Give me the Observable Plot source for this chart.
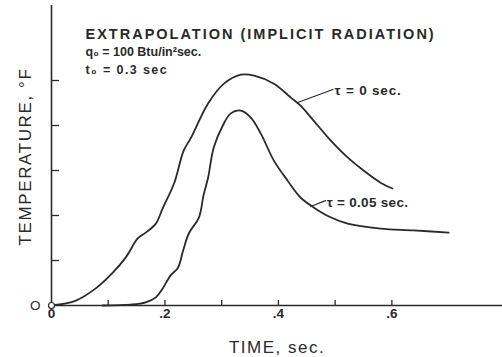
<!DOCTYPE html>
<html>
<head>
<meta charset="utf-8">
<script src="https://cdn.jsdelivr.net/npm/d3@7"></script>
<script src="https://cdn.jsdelivr.net/npm/@observablehq/plot@0.6"></script>
<style>
  html, body { margin: 0; padding: 0; background: #fff; }
  #chart svg { display: block; }
</style>
</head>
<body>
<div id="chart"></div>
<script>
// Curve τ = 0 sec.
const timeTau0 = [0, 0.043, 0.078, 0.108, 0.131, 0.152, 0.166, 0.184, 0.196, 0.216, 0.233, 0.246, 0.276, 0.304, 0.334, 0.357, 0.392, 0.422, 0.439, 0.462, 0.492, 0.522, 0.55, 0.58, 0.601];
const tempTau0 = [0, 0.11, 0.38, 0.73, 1.07, 1.49, 1.62, 1.82, 2.16, 2.71, 3.44, 3.73, 4.49, 4.93, 5.13, 5.11, 4.93, 4.62, 4.44, 4.11, 3.67, 3.29, 3.0, 2.73, 2.6];
// Curve τ = 0.05 sec.
const timeTau005 = [0.09, 0.14, 0.166, 0.184, 0.196, 0.21, 0.223, 0.232, 0.242, 0.26, 0.268, 0.276, 0.286, 0.302, 0.316, 0.334, 0.351, 0.369, 0.392, 0.416, 0.439, 0.462, 0.492, 0.522, 0.58, 0.638, 0.70];
const tempTau005 = [0, 0.02, 0.07, 0.18, 0.38, 0.67, 0.84, 1.22, 1.6, 1.96, 2.45, 2.84, 3.51, 4.0, 4.27, 4.33, 4.18, 3.82, 3.22, 2.78, 2.4, 2.18, 1.96, 1.82, 1.71, 1.67, 1.62];

const xTickValues = [0, 0.2, 0.4, 0.6];
const xTickLabels = ["0", ".2", ".4", ".6"];
const xTickMarks = [0.1, 0.2, 0.3, 0.4, 0.5, 0.6];
const yTickMarks = [1, 2, 3, 4, 5];
const yTickValues = [0];
const yTickLabels = ["O"];

const titleLines = ["EXTRAPOLATION (IMPLICIT RADIATION)", "q₀ = 100 Btu/in²sec.", "t₀ = 0.3 sec"];
const xTitle = "TIME, sec.";
const yTitle = "TEMPERATURE, °F";
const curveNames = ["τ = 0 sec.", "τ = 0.05 sec."];

const curves = [
  ...timeTau0.map((t, i) => ({t, T: tempTau0[i], series: curveNames[0]})),
  ...timeTau005.map((t, i) => ({t, T: tempTau005[i], series: curveNames[1]}))
];

const ink = "#2a2a2a";
const font = "'Liberation Sans', Arial, sans-serif";

const labelAnnotations = [
  {text: curveNames[0], x: 0.499, y: 4.67, fx: 0.434, fy: 4.51, lx: 0.496, ly: 4.8, bend: 40},
  {text: curveNames[1], x: 0.485, y: 2.2, fx: 0.457, fy: 2.2, lx: 0.483, ly: 2.33, bend: 15}
];

const chart = Plot.plot({
  width: 502,
  height: 357,
  marginLeft: 51,
  marginRight: 0,
  marginTop: 5,
  marginBottom: 52,
  x: {domain: [0, 0.795]},
  y: {domain: [0, 6.667]},
  style: {fontFamily: font, color: ink, background: "#fff", overflow: "visible"},
  marks: [
    Plot.ruleX([0], {stroke: ink, strokeWidth: 1.6}),
    Plot.ruleY([0], {stroke: ink, strokeWidth: 1.6}),
    Plot.axisX({ticks: xTickMarks, tickSize: 5, dy: -5, fill: "none", stroke: ink, strokeWidth: 1.3, label: null}),
    Plot.axisX({ticks: xTickValues, tickSize: 0, tickPadding: 3, fontSize: 13.5, fontWeight: "bold", tickFormat: d => xTickLabels[xTickValues.indexOf(d)], label: null}),
    Plot.axisY({ticks: yTickMarks, tickSize: 8, dx: 8, fill: "none", stroke: ink, strokeWidth: 1.3, label: null}),
    Plot.axisY({ticks: yTickValues, tickSize: 0, tickPadding: 11, fontSize: 13.5, tickFormat: d => yTickLabels[yTickValues.indexOf(d)], label: null}),
    Plot.line(curves, {x: "t", y: "T", z: "series", stroke: ink, strokeWidth: 1.8, curve: "catmull-rom"}),
    Plot.dot([{t: 0, T: 0}], {x: "t", y: "T", r: 3, fill: "#fff", stroke: ink, strokeWidth: 1.2}),
    Plot.arrow(labelAnnotations, {x1: "fx", y1: "fy", x2: "lx", y2: "ly", bend: "bend", headLength: 0, stroke: ink, strokeWidth: 1.2}),
    Plot.text(labelAnnotations, {x: "x", y: "y", text: "text", textAnchor: "start", lineAnchor: "bottom", fontSize: 13.5, fontWeight: "bold", fill: ink}),
    Plot.text([titleLines[0]], {frameAnchor: "top-left", dx: 34, dy: 33, textAnchor: "start", lineAnchor: "bottom", fontSize: 14.5, fontWeight: "bold", fill: ink}),
    Plot.text([titleLines[1]], {frameAnchor: "top-left", dx: 34, dy: 50, textAnchor: "start", lineAnchor: "bottom", fontSize: 12.5, fontWeight: "bold", fill: ink}),
    Plot.text([titleLines[2]], {frameAnchor: "top-left", dx: 34, dy: 68, textAnchor: "start", lineAnchor: "bottom", fontSize: 12.5, fontWeight: "bold", fill: ink}),
    Plot.text([xTitle], {frameAnchor: "bottom", dy: 47, textAnchor: "middle", lineAnchor: "bottom", fontSize: 17, fill: ink}),
    Plot.text([yTitle], {frameAnchor: "left", dx: -21, dy: 1, rotate: -90, textAnchor: "middle", lineAnchor: "bottom", fontSize: 17, fill: ink})
  ]
});
document.getElementById("chart").appendChild(chart);

// letter spacing of the hand lettering
const spacing = new Map([
  [titleLines[0], "2px"],
  [titleLines[1], "0px"],
  [titleLines[2], "1.4px"],
  [xTitle, "1.5px"],
  [yTitle, "1.6px"],
  [curveNames[0], "0.8px"],
  [curveNames[1], "0.3px"]
]);
d3.select(chart).selectAll("text").each(function() {
  const s = spacing.get(this.textContent);
  if (s) this.style.letterSpacing = s;
});
</script>
</body>
</html>
